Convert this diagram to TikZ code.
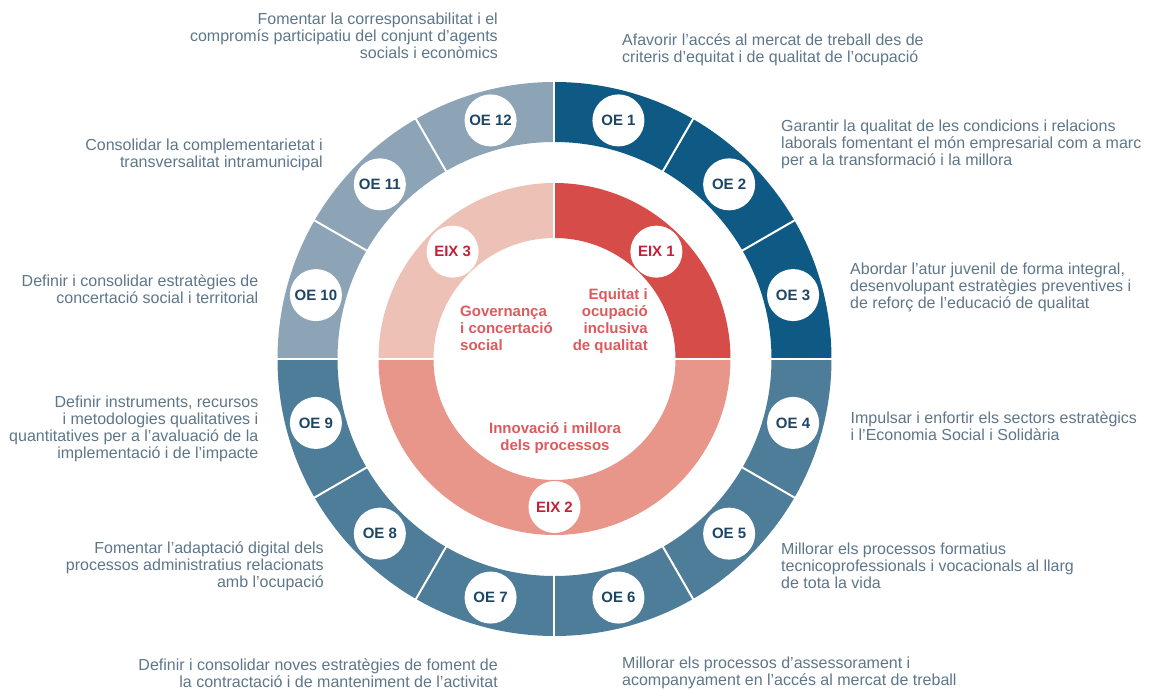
\documentclass[tikz,border=0pt]{standalone}
\usepackage{fontspec}
\setmainfont{Liberation Sans}
\usepackage{tikz}
\definecolor{oedark}{HTML}{0F5A85}
\definecolor{oemid}{HTML}{4E7D9A}
\definecolor{oelight}{HTML}{8CA4B5}
\definecolor{eixone}{HTML}{D54C48}
\definecolor{eixtwo}{HTML}{E8968A}
\definecolor{eixthree}{HTML}{EDC1B5}
\definecolor{oetext}{HTML}{1D4564}
\definecolor{eixtext}{HTML}{C32139}
\definecolor{lbltext}{HTML}{5D7689}
\definecolor{axistext}{HTML}{DC5A5C}
\tikzset{
  font={\fontsize{16pt}{17pt}\selectfont},
  oecircle/.style={circle, fill=white, minimum size=52pt, text=oetext,
    font={\fontsize{15pt}{17pt}\selectfont\bfseries}},
  eixcircle/.style={circle, fill=white, minimum size=52pt, text=eixtext,
    font={\fontsize{15pt}{17pt}\selectfont\bfseries}},
  sepline/.style={white, line width=2pt},
  lblleft/.style={text=lbltext, align=left, anchor=west},
  lblright/.style={text=lbltext, align=right, anchor=east},
  axislbl/.style={text=axistext, font={\fontsize{15pt}{17pt}\selectfont\bfseries}}}

\begin{document}
\begin{tikzpicture}[x=1pt,y=1pt]
\tikzstyle{every node}+=[inner sep=0pt]
\useasboundingbox (-554.5,-331) rectangle (596.5,359);
% outer ring
\fill [oedark] (90:277) arc [start angle=90, end angle=0, radius=277] -- (0:217) arc [start angle=0, end angle=90, radius=217] -- cycle;
\fill [oemid] (0:277) arc [start angle=0, end angle=-180, radius=277] -- (-180:217) arc [start angle=-180, end angle=0, radius=217] -- cycle;
\fill [oelight] (180:277) arc [start angle=180, end angle=90, radius=277] -- (90:217) arc [start angle=90, end angle=180, radius=217] -- cycle;
\draw [sepline] (90:216) -- (90:278);
\draw [sepline] (60:216) -- (60:278);
\draw [sepline] (30:216) -- (30:278);
\draw [sepline] (0:216) -- (0:278);
\draw [sepline] (-30:216) -- (-30:278);
\draw [sepline] (-60:216) -- (-60:278);
\draw [sepline] (-90:216) -- (-90:278);
\draw [sepline] (-120:216) -- (-120:278);
\draw [sepline] (-150:216) -- (-150:278);
\draw [sepline] (180:216) -- (180:278);
\draw [sepline] (150:216) -- (150:278);
\draw [sepline] (120:216) -- (120:278);
% inner ring
\fill [eixone] (90:176) arc [start angle=90, end angle=0, radius=176] -- (0:121) arc [start angle=0, end angle=90, radius=121] -- cycle;
\fill [eixtwo] (0:176) arc [start angle=0, end angle=-180, radius=176] -- (-180:121) arc [start angle=-180, end angle=0, radius=121] -- cycle;
\fill [eixthree] (180:176) arc [start angle=180, end angle=90, radius=176] -- (90:121) arc [start angle=90, end angle=180, radius=121] -- cycle;
\draw [sepline] (90:120) -- (90:177);
\draw [sepline] (0:120) -- (0:177);
\draw [sepline] (180:120) -- (180:177);
% objectives
\node [oecircle] (oe1) at (75:247) {OE 1};
\node [oecircle] (oe2) at (45:247) {OE 2};
\node [oecircle] (oe3) at (15:247) {OE 3};
\node [oecircle] (oe4) at (-15:247) {OE 4};
\node [oecircle] (oe5) at (-45:247) {OE 5};
\node [oecircle] (oe6) at (-75:247) {OE 6};
\node [oecircle] (oe7) at (-105:247) {OE 7};
\node [oecircle] (oe8) at (-135:247) {OE 8};
\node [oecircle] (oe9) at (-165:247) {OE 9};
\node [oecircle] (oe10) at (165:247) {OE 10};
\node [oecircle] (oe11) at (135:247) {OE 11};
\node [oecircle] (oe12) at (105:247) {OE 12};
% axes
\node [eixcircle] (eix1) at (46.5:148) {EIX 1};
\node [eixcircle] (eix2) at (-90:148) {EIX 2};
\node [eixcircle] (eix3) at (133.5:148) {EIX 3};
\node [axislbl, align=right, anchor=east] (equitat) at (93.5,38) {Equitat i\\ocupació\\inclusiva\\de qualitat};
\node [axislbl, align=left, anchor=west] (governanca) at (-94.5,31) {Governança\\i concertació\\social};
\node [axislbl, align=center] (innovacio) at (0.5,-79.5) {Innovació i millora\\dels processos};
% labels
\node [lblleft] (lbl1) at (67.5,309.5) {Afavorir l’accés al mercat de treball des de\\criteris d’equitat i de qualitat de l’ocupació};
\node [lblleft] (lbl2) at (226.5,215) {Garantir la qualitat de les condicions i relacions\\laborals fomentant el món empresarial com a marc\\per a la transformació i la millora};
\node [lblleft] (lbl3) at (295.5,72) {Abordar l’atur juvenil de forma integral,\\desenvolupant estratègies preventives i\\de reforç de l’educació de qualitat};
\node [lblleft] (lbl4) at (296,-67.5) {Impulsar i enfortir els sectors estratègics\\i l’Economia Social i Solidària};
\node [lblleft] (lbl5) at (226.5,-207) {Millorar els processos formatius\\tecnicoprofessionals i vocacionals al llarg\\de tota la vida};
\node [lblleft] (lbl6) at (67.5,-314) {Millorar els processos d’assessorament i\\acompanyament en l’accés al mercat de treball};
\node [lblright] (lbl7) at (-56.5,-314) {Definir i consolidar noves estratègies de foment de\\la contractació i de manteniment de l’activitat};
\node [lblright] (lbl8) at (-230.5,-207) {Fomentar l’adaptació digital dels\\processos administratius relacionats\\amb l’ocupació};
\node [lblright] (lbl9) at (-296,-70) {Definir instruments, recursos\\i metodologies qualitatives i\\quantitatives per a l’avaluació de la\\implementació i de l’impacte};
\node [lblright] (lbl10) at (-296,70) {Definir i consolidar estratègies de\\concertació social i territorial};
\node [lblright] (lbl11) at (-231.5,204) {Consolidar la complementarietat i\\transversalitat intramunicipal};
\node [lblright] (lbl12) at (-56.5,323) {Fomentar la corresponsabilitat i el\\compromís participatiu del conjunt d’agents\\socials i econòmics};
\end{tikzpicture}
\end{document}
